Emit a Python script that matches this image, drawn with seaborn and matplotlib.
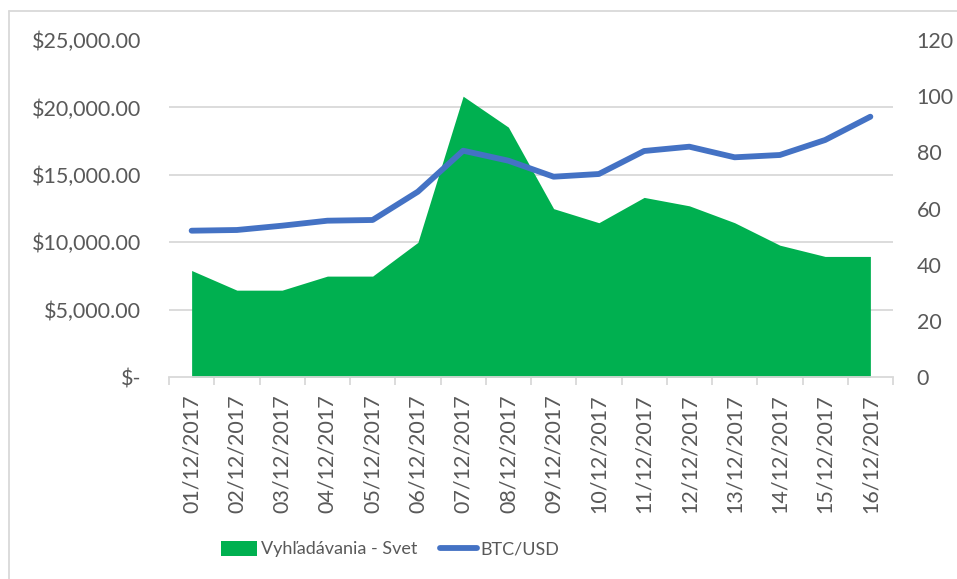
import matplotlib
matplotlib.use("Agg")
import matplotlib.pyplot as plt
from matplotlib.lines import Line2D
from matplotlib.patches import Patch
from matplotlib.ticker import FuncFormatter, MultipleLocator
import seaborn as sns
import pandas as pd
import numpy as np

dates = ["01/12/2017", "02/12/2017", "03/12/2017", "04/12/2017", "05/12/2017",
         "06/12/2017", "07/12/2017", "08/12/2017", "09/12/2017", "10/12/2017",
         "11/12/2017", "12/12/2017", "13/12/2017", "14/12/2017", "15/12/2017",
         "16/12/2017"]
searches = [38, 31, 31, 36, 36, 48, 100, 89, 60, 55, 64, 61, 55, 47, 43, 43]
btc_usd = [10866, 10918, 11237, 11607, 11660, 13757, 16796, 16054, 14868, 15068,
           16773, 17092, 16306, 16477, 17589, 19315]

area_label = "Vyhľadávania - Svet"
line_label = "BTC/USD"

sns.set_theme(style="white")
plt.rcParams['font.family'] = ['Lato', 'DejaVu Sans']

GREEN = "#00B050"
BLUE = "#4472C4"
TXT = "#595959"
GRID = "#D9D9D9"
FS = 15.5
LFS = 13

df = pd.DataFrame({"date": dates, "idx": np.arange(len(dates)),
                   "searches": searches, "btc": btc_usd})

fig = plt.figure(figsize=(9.57, 5.79), dpi=100)
W, H = 957, 579
ax = fig.add_axes([169 / W, 1 - 377.3 / H, (893 - 169) / W, (377.3 - 40) / H])

# area (right axis, 0-120)
ax.fill_between(df["idx"], 0, df["searches"], color=GREEN, linewidth=0, zorder=2)
ax.set_ylim(0, 120)
ax.set_xlim(-0.5, len(dates) - 0.5)
ax.yaxis.set_major_locator(MultipleLocator(20))
ax.yaxis.set_minor_locator(MultipleLocator(24))
ax.grid(False)
ax.yaxis.grid(True, which="minor", color=GRID, linewidth=1.3, zorder=0)
ax.set_axisbelow(True)

ax2 = ax.twinx()
ax.yaxis.tick_right()
ax.yaxis.set_label_position("right")
ax2.yaxis.tick_left()
ax2.yaxis.set_label_position("left")

sns.lineplot(data=df, x="idx", y="btc", ax=ax2, color=BLUE, linewidth=4.2,
             solid_capstyle="round", solid_joinstyle="round", legend=False)
ax2.set_ylim(0, 25000)
ax2.set_xlim(-0.5, len(dates) - 0.5)
ax2.yaxis.set_major_locator(MultipleLocator(5000))
ax2.yaxis.set_major_formatter(FuncFormatter(lambda v, p: "$-" if v == 0 else f"${v:,.2f}"))
ax2.set_xlabel("")
ax2.set_ylabel("")
ax.set_xlabel("")
ax.set_ylabel("")

for a in (ax, ax2):
    for s in a.spines.values():
        s.set_visible(False)
ax.spines["bottom"].set_visible(True)
ax.spines["bottom"].set_color(GRID)
ax.spines["bottom"].set_linewidth(1.3)

# x ticks
ax.set_xticks(df["idx"])
ax.set_xticklabels(dates, rotation=90, color=TXT, fontsize=FS)
ax.set_xticks(np.arange(-0.5, len(dates)), minor=True)
ax.tick_params(axis="x", which="major", length=0, pad=12)
ax.tick_params(axis="x", which="minor", length=6, color=GRID, width=1.3, direction="out", bottom=True)

ax.tick_params(axis="y", which="both", length=0, labelsize=FS, labelcolor=TXT, pad=17, right=True, left=False)
ax2.tick_params(axis="y", length=0, labelsize=FS, labelcolor=TXT, pad=20)
ax2.tick_params(axis="x", which="both", length=0, labelbottom=False)

handles = [Patch(facecolor=GREEN, edgecolor="none", label=area_label),
           Line2D([0], [0], color=BLUE, linewidth=4.2, solid_capstyle="round", label=line_label)]
leg = fig.legend(handles=handles, loc="center", bbox_to_anchor=(390 / W, 1 - 549 / H),
                 ncol=2, frameon=False, fontsize=LFS, handlelength=2.0, handleheight=0.95,
                 columnspacing=1.3, handletextpad=0.22)
for t in leg.get_texts():
    t.set_color(TXT)

# chart border (top and left)
fig.add_artist(Line2D([9 / W, 9 / W], [0, 1 - 11 / H], color=GRID, linewidth=1.3, transform=fig.transFigure))
fig.add_artist(Line2D([9 / W, 1], [1 - 11 / H, 1 - 11 / H], color=GRID, linewidth=1.3, transform=fig.transFigure))

fig.savefig("out.png", dpi=100, facecolor="white")
